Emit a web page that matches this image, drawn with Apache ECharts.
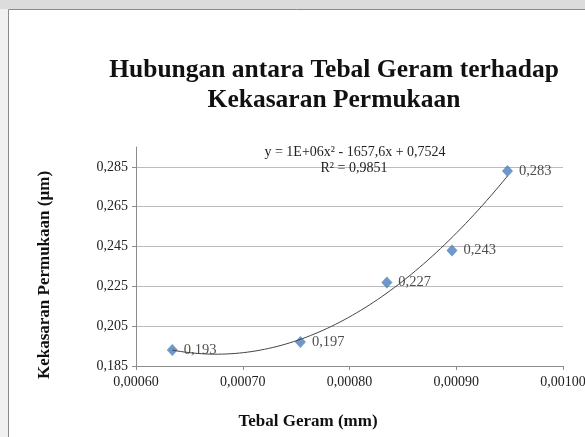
<!DOCTYPE html>
<html>
<head>
<meta charset="utf-8">
<script src="https://cdn.jsdelivr.net/npm/echarts@6/dist/echarts.min.js"></script>
<style>
html,body{margin:0;padding:0;background:#fff;}
#chart{width:585px;height:437px;}
</style>
</head>
<body>
<div id="chart"></div>
<script>
// ---- data ----
const tebalGeram = [0.000634, 0.000754, 0.000835, 0.000896, 0.000948];
const kekasaran = [0.193, 0.197, 0.227, 0.243, 0.283];
const xTicks = [0.0006, 0.0007, 0.0008, 0.0009, 0.0010];
const yTicks = [0.185, 0.205, 0.225, 0.245, 0.265, 0.285];
const titleText = 'Hubungan antara Tebal Geram terhadap\nKekasaran Permukaan';
const xTitle = 'Tebal Geram (mm)';
const yTitle = 'Kekasaran Permukaan (µm)';
const eqText = 'y = 1E+06x² - 1657,6x + 0,7524';
const r2Text = 'R² = 0,9851';

// least-squares quadratic trendline (as the spreadsheet's polynomial trendline)
function polyFit2(xs, ys) {
  const n = xs.length;
  const xm = xs.reduce((a, b) => a + b, 0) / n;
  let S = [[0,0,0],[0,0,0],[0,0,0]], T = [0,0,0];
  for (let i = 0; i < n; i++) {
    const u = xs[i] - xm;
    const p = [1, u, u*u];
    for (let r = 0; r < 3; r++) { T[r] += p[r]*ys[i]; for (let c = 0; c < 3; c++) S[r][c] += p[r]*p[c]; }
  }
  const A = S.map((row, i) => row.concat([T[i]]));
  for (let i = 0; i < 3; i++) {
    for (let k = i+1; k < 3; k++) {
      const f = A[k][i] / A[i][i];
      for (let j = i; j < 4; j++) A[k][j] -= f*A[i][j];
    }
  }
  const c = [0,0,0];
  for (let i = 2; i >= 0; i--) {
    let s = A[i][3];
    for (let j = i+1; j < 3; j++) s -= A[i][j]*c[j];
    c[i] = s / A[i][i];
  }
  return x => c[0] + c[1]*(x-xm) + c[2]*(x-xm)*(x-xm);
}
const fit = polyFit2(tebalGeram, kekasaran);
const trend = [];
const x0 = tebalGeram[0], x1 = tebalGeram[tebalGeram.length-1];
for (let i = 0; i <= 80; i++) { const x = x0 + (x1-x0)*i/80; trend.push([x, fit(x)]); }

const serif = 'Liberation Serif';
const chart = echarts.init(document.getElementById('chart'));
chart.setOption({
  animation: false,
  backgroundColor: '#ffffff',
  grid: { left: 136, right: 22, top: 147, bottom: 71, containLabel: false, outerBoundsMode: 'none' },
  xAxis: {
    type: 'value', min: 0.0006, max: 0.001,
    axisLine: { show: true, lineStyle: { color: '#8c8c8c', width: 1 } },
    axisTick: { show: true, length: 4, lineStyle: { color: '#8c8c8c' }, customValues: xTicks },
    axisLabel: { customValues: xTicks, fontFamily: serif, fontSize: 14, color: '#222', margin: 9,
      formatter: v => v.toFixed(5).replace('.', ',') },
    splitLine: { show: false }
  },
  yAxis: {
    type: 'value', min: 0.185, max: 0.295,
    axisLine: { show: true, lineStyle: { color: '#8c8c8c', width: 1 } },
    axisTick: { show: true, length: 4, lineStyle: { color: '#8c8c8c' }, customValues: yTicks },
    axisLabel: { customValues: yTicks, fontFamily: serif, fontSize: 14, color: '#222', margin: 8,
      formatter: v => v.toFixed(3).replace('.', ',') },
    splitLine: { show: true, lineStyle: { color: '#bcbcbc', width: 1 } }
  },
  graphic: [
    { type: 'rect', shape: { x: 0, y: 0, width: 585, height: 9 }, style: { fill: '#dcdcdc' }, silent: true },
    { type: 'rect', shape: { x: 0, y: 9, width: 8, height: 428 }, style: { fill: '#f1f1f1' }, silent: true },
    { type: 'polyline', shape: { points: [[8.5, 437], [8.5, 9.5], [585, 9.5]] }, style: { stroke: '#8a8a8a', lineWidth: 1, fill: null }, silent: true },
    { type: 'text', x: 334, y: 55, style: { text: titleText, fontFamily: serif, fontWeight: 'bold', fontSize: 25.5, lineHeight: 30, fill: '#111', align: 'center', verticalAlign: 'top' } },
    { type: 'text', x: 355, y: 152, z: 10, style: { text: eqText, fontFamily: serif, fontSize: 14, fill: '#222', align: 'center', verticalAlign: 'middle' } },
    { type: 'text', x: 354, y: 168, z: 10, style: { text: r2Text, fontFamily: serif, fontSize: 14, fill: '#222', align: 'center', verticalAlign: 'middle' } },
    { type: 'text', x: 308, y: 422, style: { text: xTitle, fontFamily: serif, fontWeight: 'bold', fontSize: 17, fill: '#111', align: 'center', verticalAlign: 'middle' } },
    { type: 'text', x: 45, y: 275, rotation: Math.PI / 2, style: { text: yTitle, fontFamily: serif, fontWeight: 'bold', fontSize: 17, fill: '#111', align: 'center', verticalAlign: 'middle' } }
  ],
  series: [
    {
      type: 'scatter', symbol: 'diamond', symbolSize: [11, 12],
      itemStyle: { color: '#4a7ebb' },
      data: tebalGeram.map((x, i) => [x, kekasaran[i]]),
      label: { show: true, position: 'right', distance: 6, fontFamily: serif, fontSize: 14.5, color: '#222',
        formatter: p => p.value[1].toFixed(3).replace('.', ',') },
      z: 3
    },
    {
      type: 'line', data: trend, showSymbol: false, smooth: false,
      lineStyle: { color: '#444', width: 1 }, z: 4, silent: true
    }
  ]
});
</script>
</body>
</html>
